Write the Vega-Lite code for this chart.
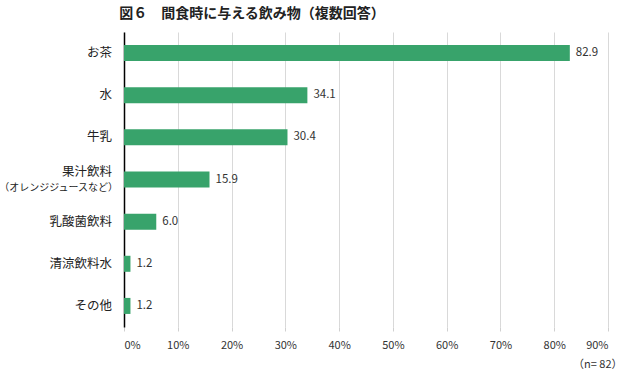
{
  "$schema": "https://vega.github.io/schema/vega-lite/v6.json",
  "width": 484,
  "height": 295,
  "autosize": "none",
  "padding": {"left": 124, "top": 32, "right": 14, "bottom": 48},
  "background": "white",
  "config": {"view": {"stroke": null}, "font": "Noto Sans CJK JP"},
  "title": {
    "text": "図６　間食時に与える飲み物（複数回答）",
    "fontSize": 14,
    "fontWeight": "bold",
    "font": "Noto Sans CJK JP",
    "anchor": "middle",
    "dx": -114,
    "offset": 11,
    "color": "#222222"
  },
  "data": {
    "values": [
      {"cat": "お茶", "value": 82.9, "main": "お茶", "sub": ""},
      {"cat": "水", "value": 34.1, "main": "水", "sub": ""},
      {"cat": "牛乳", "value": 30.4, "main": "牛乳", "sub": ""},
      {"cat": "果汁飲料", "value": 15.9, "main": "果汁飲料", "sub": "（オレンジジュースなど）"},
      {"cat": "乳酸菌飲料", "value": 6.0, "main": "乳酸菌飲料", "sub": ""},
      {"cat": "清涼飲料水", "value": 1.2, "main": "清涼飲料水", "sub": ""},
      {"cat": "その他", "value": 1.2, "main": "その他", "sub": ""}
    ]
  },
  "encoding": {
    "y": {
      "field": "cat",
      "type": "nominal",
      "sort": null,
      "scale": {"paddingInner": 0.62, "paddingOuter": 0.31},
      "axis": {"labels": false, "ticks": false, "title": null, "domainColor": "#000000", "domainWidth": 1.5}
    }
  },
  "layer": [
    {
      "mark": {"type": "bar", "color": "#38a36b"},
      "encoding": {
        "x": {
          "field": "value",
          "type": "quantitative",
          "scale": {"domain": [0, 90]},
          "axis": {
            "values": [0, 10, 20, 30, 40, 50, 60, 70, 80, 90],
            "labelExpr": "datum.value + '%'",
            "labelFontSize": 11,
            "labelColor": "#333333",
            "labelPadding": 8,
            "domain": false,
            "tickColor": "#d0d0d0",
            "tickSize": 4,
            "gridColor": "#d9d9d9",
            "title": "（n= 82）",
            "titleFontSize": 11,
            "titleFontWeight": "normal",
            "titleColor": "#333333",
            "titleAnchor": "end",
            "titleAlign": "right",
            "titlePadding": 8,
            "titleX": 498
          }
        }
      }
    },
    {
      "mark": {"type": "text", "align": "left", "dx": 6, "fontSize": 11.5, "color": "#333333"},
      "encoding": {
        "x": {"field": "value", "type": "quantitative"},
        "text": {"field": "value", "type": "quantitative", "format": ".1f"}
      }
    },
    {
      "transform": [{"filter": "datum.sub == ''"}],
      "mark": {"type": "text", "align": "right", "dx": -12, "fontSize": 12.5, "color": "#222222"},
      "encoding": {
        "x": {"datum": 0, "type": "quantitative"},
        "text": {"field": "main"}
      }
    },
    {
      "transform": [{"filter": "datum.sub != ''"}],
      "mark": {"type": "text", "align": "right", "dx": -12, "dy": -8, "fontSize": 12.5, "color": "#222222"},
      "encoding": {
        "x": {"datum": 0, "type": "quantitative"},
        "text": {"field": "main"}
      }
    },
    {
      "transform": [{"filter": "datum.sub != ''"}],
      "mark": {"type": "text", "align": "right", "dx": -6, "dy": 8, "fontSize": 10, "color": "#222222"},
      "encoding": {
        "x": {"datum": 0, "type": "quantitative"},
        "text": {"field": "sub"}
      }
    }
  ]
}
